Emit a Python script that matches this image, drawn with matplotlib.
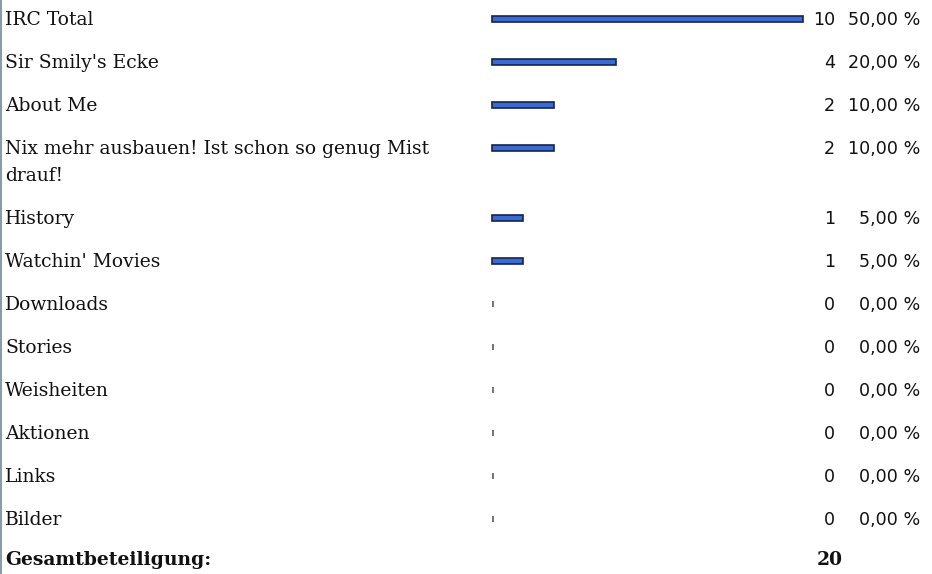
import matplotlib.pyplot as plt

# Umfrage-Daten
kategorien = ["IRC Total", "Sir Smily's Ecke", "About Me",
              "Nix mehr ausbauen! Ist schon so genug Mist\ndrauf!",
              "History", "Watchin' Movies", "Downloads", "Stories",
              "Weisheiten", "Aktionen", "Links", "Bilder"]
stimmen = [10, 4, 2, 2, 1, 1, 0, 0, 0, 0, 0, 0]
gesamt_label = "Gesamtbeteiligung:"

gesamt = sum(stimmen)
prozente = [100 * s / gesamt for s in stimmen]

W, H = 932, 574
fig = plt.figure(figsize=(W / 100, H / 100), dpi=100)
ax = fig.add_axes([0, 0, 1, 1])
ax.set_xlim(0, W)
ax.set_ylim(H, 0)
ax.axis('off')

serif = dict(family='DejaVu Serif', fontsize=13.5, color='#111111')
sans = dict(family='DejaVu Sans', fontsize=12.6, color='#111111')

bar_x0 = 492
px_pro_stimme = 31.1
zeilen_abstand = 43
zeile_y = 19

for name, s, p in zip(kategorien, stimmen, prozente):
    for i, teil in enumerate(name.split('\n')):
        ax.text(5, zeile_y + 1 + 27 * i, teil, va='center', ha='left', **serif)
    if s > 0:
        ax.barh(zeile_y, s * px_pro_stimme, left=bar_x0, height=6,
                color='#3a6bd0', edgecolor='#17244f', linewidth=1.2)
    else:
        ax.barh(zeile_y, 2, left=bar_x0, height=6, color='#777777', linewidth=0)
    ax.text(835, zeile_y + 1, str(s), va='center', ha='right', **sans)
    ax.text(920, zeile_y + 1, f"{p:.2f}".replace('.', ',') + " %",
            va='center', ha='right', **sans)
    zeile_y += zeilen_abstand + 27 * name.count('\n')

ax.text(5, 560, gesamt_label, va='center', ha='left', fontweight='bold',
        **serif)
ax.text(817, 560, str(gesamt), va='center', ha='left', fontweight='bold',
        **serif)

# linker Rand
ax.plot([0.5, 0.5], [0, H], color='#8a9aa8', linewidth=1.5)

fig.savefig('out.png', dpi=100)
